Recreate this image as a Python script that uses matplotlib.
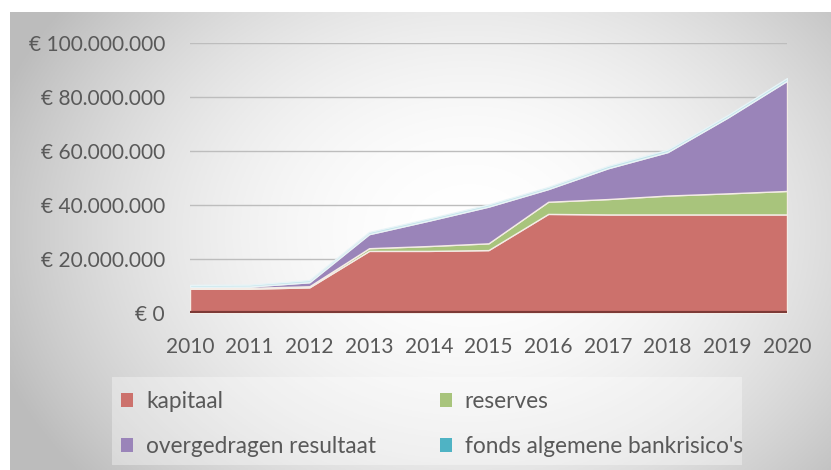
import numpy as np
import matplotlib
matplotlib.use("Agg")
import matplotlib.pyplot as plt
from matplotlib.patches import Rectangle, Patch
from matplotlib.ticker import FuncFormatter

years = [2010, 2011, 2012, 2013, 2014, 2015, 2016, 2017, 2018, 2019, 2020]
kapitaal = [9.0, 9.0, 9.5, 23.0, 23.0, 23.3, 36.7, 36.5, 36.5, 36.5, 36.5]
reserves = [0.3, 0.3, 0.4, 1.0, 1.8, 2.5, 4.5, 5.7, 7.0, 7.8, 8.7]
overgedragen = [0.4, 0.5, 1.5, 5.2, 9.4, 13.6, 4.7, 11.4, 16.1, 28.0, 40.8]
fonds = [0.7, 0.7, 0.8, 0.8, 0.8, 0.8, 0.8, 0.9, 0.9, 0.9, 1.0]
labels = ["kapitaal", "reserves", "overgedragen resultaat", "fonds algemene bankrisico's"]
colors = ["#cc716c", "#a8c47c", "#9a84b9", "#4fb3c4"]
yticks = [0, 20, 40, 60, 80, 100]

plt.rcParams['font.family'] = ['Lato', 'DejaVu Sans']

W, H = 831, 470
fig = plt.figure(figsize=(W / 100, H / 100), dpi=100, facecolor="white")

# background gradient panel
bg = fig.add_axes([10 / W, 0, (W - 10) / W, (H - 12) / H], zorder=-2)
nx, ny = 400, 240
xx, yy = np.meshgrid(np.linspace(0, 1, nx), np.linspace(0, 1, ny))
d2 = ((xx - 0.56) / 0.56) ** 2 + ((yy - 0.48) / 0.78) ** 2
v = np.clip(1 - 0.22 * d2, 0.74, 1.0)
bg.imshow(np.dstack([v, v, v]), extent=[0, 1, 0, 1], aspect="auto", origin="upper")
bg.set_axis_off()

ax = fig.add_axes([190 / W, (H - 313) / H, (787 - 190) / W, (313 - 43) / H])
ax.set_facecolor("none")
scale = 1e6
polys = ax.stackplot(years,
                     np.array(kapitaal) * scale, np.array(reserves) * scale,
                     np.array(overgedragen) * scale, np.array(fonds) * scale,
                     colors=colors, edgecolor="#f4ece6", linewidth=1.0, zorder=3)
polys[3].set_facecolor("#bfe3ea")
polys[3].set_edgecolor("#e8f4f7")
ax.plot(years, [0] * len(years), color="#7d3a37", lw=3, solid_capstyle="butt", zorder=4)

ax.set_xlim(2010, 2020)
ax.set_ylim(0, 100 * scale)
ax.set_yticks([t * scale for t in yticks])
ax.yaxis.set_major_formatter(FuncFormatter(
    lambda val, pos: "€ 0" if val == 0 else "€ " + f"{int(round(val)):,}".replace(",", ".")))
ax.set_xticks(years)
ax.grid(axis="y", color="#bdbdbd", lw=1, zorder=1)
for s in ax.spines.values():
    s.set_visible(False)
ax.tick_params(axis="both", length=0, colors="#595959")
ax.tick_params(axis="y", labelsize=15, pad=18)
ax.tick_params(axis="x", labelsize=15, pad=17)

# legend box
fig.patches.append(Rectangle((112 / W, (H - 465) / H), (742 - 112) / W, (465 - 377) / H,
                             transform=fig.transFigure, facecolor="white", alpha=0.35,
                             edgecolor="none", zorder=-1))
handles = [Patch(facecolor=c) for c in colors]
order = [0, 2, 1, 3]
leg = fig.legend([handles[i] for i in order], [labels[i] for i in order], ncol=2,
                 loc="upper left", bbox_to_anchor=(121 / W, (H - 391) / H), frameon=False,
                 fontsize=16.3, labelcolor="#595959", handlelength=0.55, handleheight=0.55,
                 handletextpad=0.55, columnspacing=2.83, labelspacing=1.05, borderpad=0,
                 borderaxespad=0)

fig.savefig("out.png", dpi=100, facecolor="white")
